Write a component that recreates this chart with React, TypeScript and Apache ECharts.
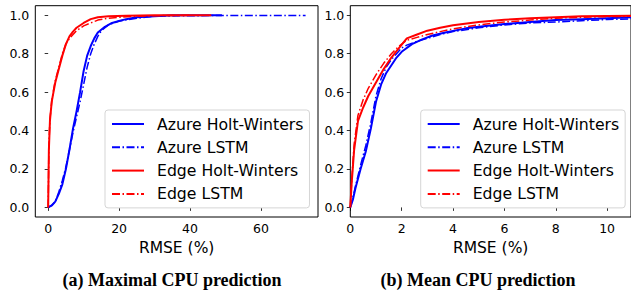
import React, { useEffect, useRef } from "react";
import * as echarts from "echarts";

const seriesNames = ["Azure Holt-Winters", "Azure LSTM", "Edge Holt-Winters", "Edge LSTM"];
const yTicks = [0, 0.2, 0.4, 0.6, 0.8, 1.0];
const xTicksMax = [0, 20, 40, 60];
const xTicksMean = [0, 2, 4, 6, 8, 10];
const captions = ["(a) Maximal CPU prediction", "(b) Mean CPU prediction"];
const axisTitle = "RMSE (%)";

// (a) Maximal CPU prediction: [RMSE %, CDF]
const maxAzureHW = [[0,0],[1,0.01],[2,0.03],[3,0.07],[4,0.12],[5,0.2],[6,0.3],[7,0.41],[8,0.5],[9,0.6],[10,0.71],[11,0.79],[12,0.84],[13,0.88],[14,0.91],[16,0.94],[18,0.96],[20,0.97],[22,0.98],[25,0.99],[30,0.995],[35,1.0],[49,1.0]];
const maxAzureLSTM = [[0,0],[1,0.01],[2,0.03],[3,0.08],[4,0.14],[5,0.21],[6,0.3],[7,0.39],[8,0.47],[9,0.55],[10,0.64],[11,0.73],[12,0.8],[13,0.85],[14,0.89],[15,0.92],[17,0.95],[20,0.97],[25,0.985],[30,0.995],[40,0.998],[50,0.999],[72.6,0.999]];
const maxEdgeHW = [[0,0],[0.2,0.3],[0.5,0.45],[1,0.55],[1.5,0.6],[2,0.65],[3,0.72],[4,0.79],[5,0.85],[6,0.89],[7,0.915],[8,0.935],[10,0.96],[12,0.98],[14,0.99],[17,0.995],[22,0.998],[30,1.0],[46,1.0]];
const maxEdgeLSTM = [[0,0],[0.2,0.32],[0.5,0.46],[1,0.55],[1.5,0.61],[2,0.66],[3,0.73],[4,0.8],[5,0.85],[6,0.88],[8,0.92],[10,0.945],[12,0.96],[14,0.975],[17,0.985],[20,0.99],[25,0.995],[30,0.998],[40,1.0]];

// (b) Mean CPU prediction
const meanAzureHW = [[0,0],[0.1,0.04],[0.2,0.1],[0.4,0.2],[0.6,0.29],[0.8,0.41],[1.0,0.55],[1.2,0.64],[1.4,0.7],[1.6,0.74],[1.8,0.78],[2.0,0.81],[2.4,0.85],[2.8,0.875],[3.2,0.895],[3.7,0.91],[4.5,0.932],[5,0.94],[6,0.955],[7,0.965],[8,0.975],[9,0.98],[10,0.985],[11,0.99]];
const meanAzureLSTM = [[0,0],[0.1,0.05],[0.2,0.11],[0.4,0.22],[0.6,0.32],[0.8,0.44],[1.0,0.58],[1.2,0.67],[1.4,0.73],[1.6,0.77],[1.8,0.8],[2.0,0.83],[2.2,0.845],[2.6,0.865],[3,0.88],[3.5,0.9],[4,0.915],[5,0.935],[6,0.95],[7,0.96],[8,0.965],[9,0.972],[10,0.978],[11,0.982]];
const meanEdgeHW = [[0,0],[0.05,0.12],[0.15,0.3],[0.3,0.45],[0.5,0.52],[0.7,0.58],[1.0,0.65],[1.3,0.72],[1.6,0.78],[1.9,0.83],[2.2,0.88],[2.6,0.9],[3,0.92],[3.5,0.935],[4,0.948],[5,0.965],[6,0.977],[7,0.985],[8,0.99],[9,0.995],[10,0.997],[11,0.998]];
const meanEdgeLSTM = [[0,0],[0.05,0.13],[0.15,0.33],[0.3,0.48],[0.5,0.56],[0.7,0.62],[1.0,0.69],[1.3,0.75],[1.6,0.8],[1.9,0.84],[2.2,0.87],[2.6,0.885],[3,0.9],[3.5,0.915],[4,0.93],[5,0.95],[6,0.965],[7,0.975],[8,0.985],[9,0.99],[10,0.993],[11,0.995]];

const BLUE = "#0000ff";
const RED = "#ff0000";
const FONT = "DejaVu Sans";
const DASHDOT = [8, 2.5, 1.5, 2.5];

export default function App() {
  const ref = useRef<HTMLDivElement>(null);
  useEffect(() => {
    if (!ref.current) return;
    const chart = echarts.init(ref.current, null, { renderer: "svg" });

    const mkX = (gi: number, min: number, max: number, ticks: number[]) => ({
      type: "value",
      gridIndex: gi,
      min,
      max,
      name: axisTitle,
      nameLocation: "middle",
      nameGap: 17,
      nameTextStyle: { fontFamily: FONT, fontSize: 15.5, color: "#000" },
      axisLine: { show: false },
      splitLine: { show: false },
      axisTick: { show: true, inside: false, length: 3.5, customValues: ticks, lineStyle: { color: "#000", width: 0.8 } },
      axisLabel: { customValues: ticks, margin: 5, fontFamily: FONT, fontSize: 12.5, color: "#000", formatter: (v: number) => String(v) },
    });
    const mkY = (gi: number) => ({
      type: "value",
      gridIndex: gi,
      min: -0.05,
      max: 1.05,
      axisLine: { show: false },
      splitLine: { show: false },
      axisTick: { show: true, inside: false, length: 3.5, customValues: yTicks, lineStyle: { color: "#000", width: 0.8 } },
      axisLabel: { customValues: yTicks, margin: 6, fontFamily: FONT, fontSize: 12.5, color: "#000", formatter: (v: number) => v.toFixed(1) },
    });
    const mkS = (name: string, data: number[][], gi: number, color: string, dashed: boolean) => ({
      type: "line",
      name,
      data,
      xAxisIndex: gi,
      yAxisIndex: gi,
      symbol: "none",
      showSymbol: false,
      clip: true,
      lineStyle: { color, width: dashed ? 1.5 : 2, type: dashed ? DASHDOT : "solid" },
      itemStyle: { color },
    });
    const mkLegend = (left: number) => ({
      data: seriesNames,
      orient: "vertical",
      left,
      top: 110,
      itemWidth: 32,
      itemHeight: 14,
      itemGap: 7.3,
      padding: [6, 6, 6, 6],
      backgroundColor: "#ffffff",
      borderColor: "#d5d5d5",
      borderWidth: 1,
      borderRadius: 3,
      selectedMode: false,
      itemStyle: { opacity: 0 },
      textStyle: { fontFamily: FONT, fontSize: 15.7, color: "#000", lineHeight: 16, padding: [0, 0, 0, 8] },
    });

    chart.setOption({
      animation: false,
      backgroundColor: "#ffffff",
      grid: [
        { left: 35.3, top: 5.7, width: 282.7, height: 211.3, show: true, borderColor: "#000", borderWidth: 1, backgroundColor: "transparent", containLabel: false },
        { left: 350.3, top: 5.7, width: 282, height: 211.3, show: true, borderColor: "#000", borderWidth: 1, backgroundColor: "transparent", containLabel: false },
      ],
      xAxis: [mkX(0, -3.63, 76.1, xTicksMax), mkX(1, 0, 10.93, xTicksMean)],
      yAxis: [mkY(0), mkY(1)],
      legend: [mkLegend(105), mkLegend(420.7)],
      series: [
        mkS(seriesNames[0], maxAzureHW, 0, BLUE, false),
        mkS(seriesNames[1], maxAzureLSTM, 0, BLUE, true),
        mkS(seriesNames[2], maxEdgeHW, 0, RED, false),
        mkS(seriesNames[3], maxEdgeLSTM, 0, RED, true),
        mkS(seriesNames[0], meanAzureHW, 1, BLUE, false),
        mkS(seriesNames[1], meanAzureLSTM, 1, BLUE, true),
        mkS(seriesNames[2], meanEdgeHW, 1, RED, false),
        mkS(seriesNames[3], meanEdgeLSTM, 1, RED, true),
      ],
      graphic: [
        { type: "text", x: 172, y: 280, style: { text: captions[0], fontFamily: "Liberation Serif", fontWeight: "bold", fontSize: 18, fill: "#000", align: "center", verticalAlign: "middle" } },
        { type: "text", x: 478, y: 280, style: { text: captions[1], fontFamily: "Liberation Serif", fontWeight: "bold", fontSize: 18, fill: "#000", align: "center", verticalAlign: "middle" } },
      ],
    });
    return () => chart.dispose();
  }, []);
  return <div ref={ref} style={{ position: "absolute", left: 0, top: 0, width: 631, height: 296 }} />;
}
